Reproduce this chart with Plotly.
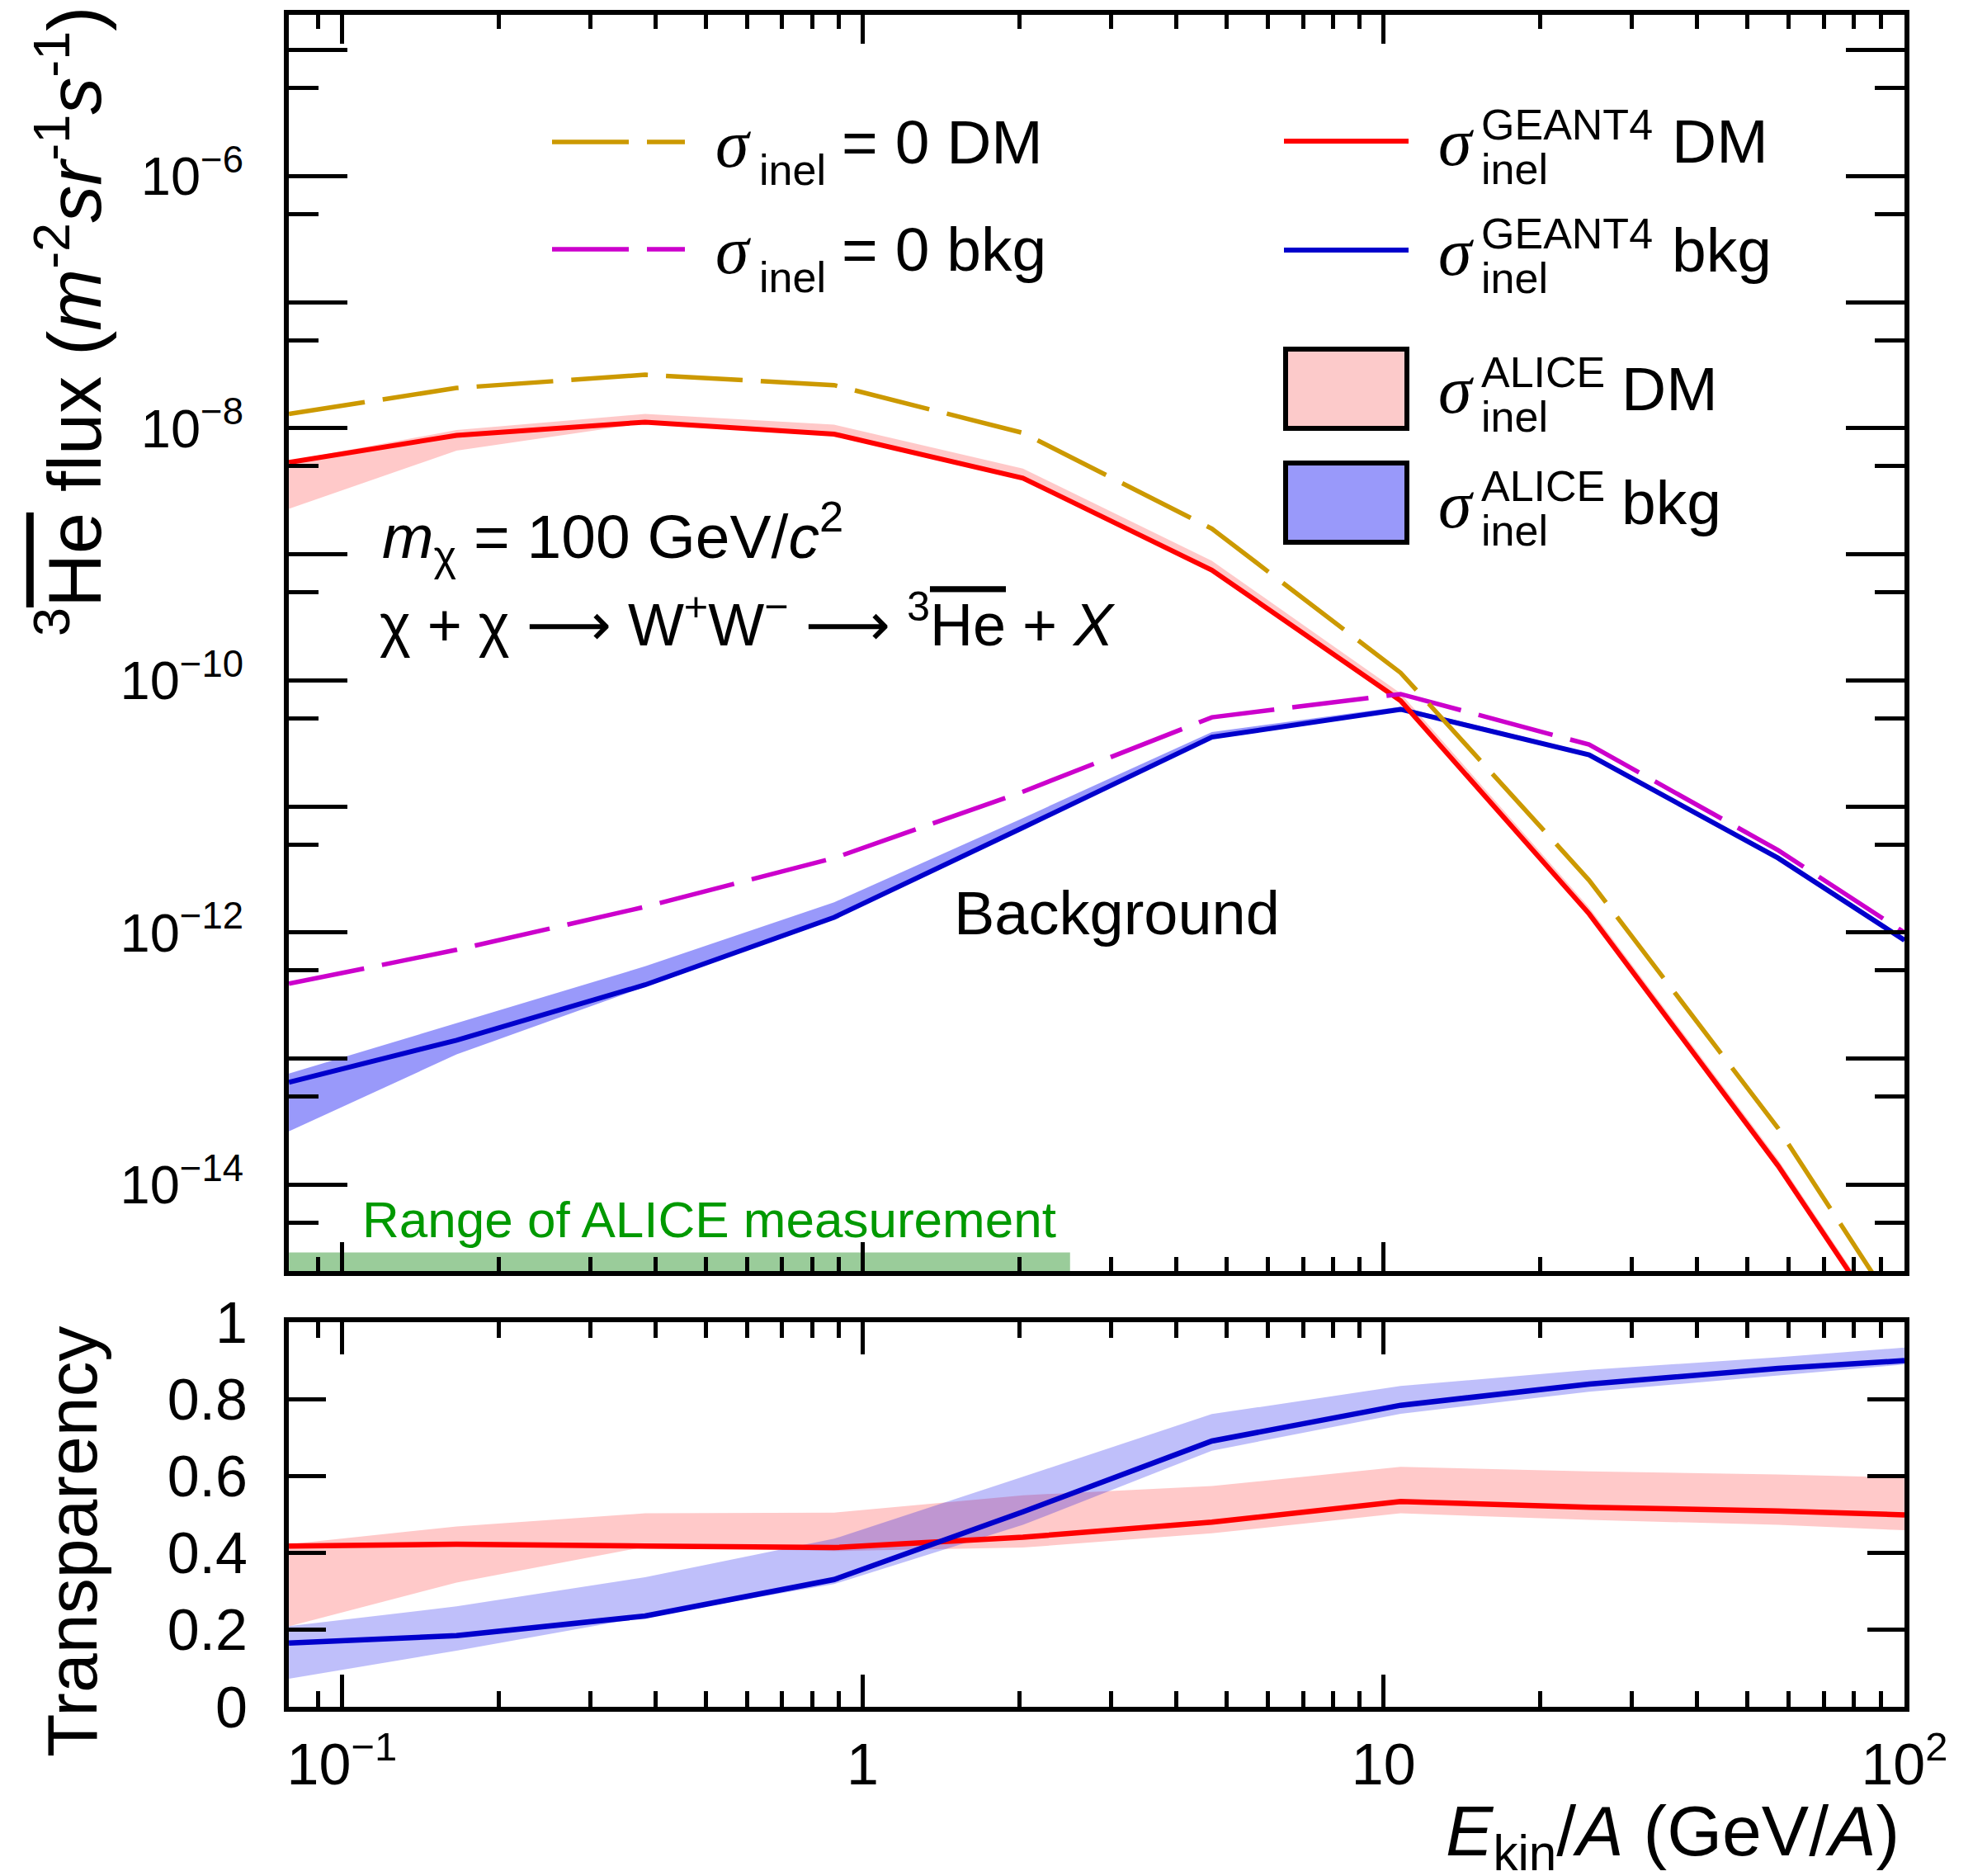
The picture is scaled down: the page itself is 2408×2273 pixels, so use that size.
import plotly.graph_objects as go

W, H = 2408, 2273
SANS = "Liberation Sans, Arial, Helvetica, sans-serif"
SERIF = "Liberation Serif, Times New Roman, serif"

# ---- data -------------------------------------------------------------
# kinetic energy per nucleon (GeV/A)
ekin = [0.0791, 0.166, 0.382, 0.881, 2.03, 4.68, 10.78, 24.8, 57.2, 100.0]

# antihelium-3 flux (m^-2 sr^-1 s^-1)
dm_sigma0 = [1.30e-8, 2.09e-8, 2.66e-8, 2.20e-8, 9.2e-9, 1.60e-9, 1.15e-10, 2.6e-12, 2.8e-14, 8.1e-16]
bkg_sigma0 = [3.93e-13, 7.3e-13, 1.60e-12, 3.9e-12, 1.31e-11, 5.1e-11, 7.8e-11, 3.1e-11, 4.5e-12, 1.0e-12]
dm_geant4 = [5.36e-9, 8.8e-9, 1.12e-8, 9.0e-9, 4.03e-9, 7.5e-10, 6.9e-11, 1.41e-12, 1.41e-14, 4.5e-16]
bkg_geant4 = [6.5e-14, 1.40e-13, 3.85e-13, 1.32e-12, 6.8e-12, 3.55e-11, 5.9e-11, 2.57e-11, 3.9e-12, 8.7e-13]
dm_alice_hi = [5.5e-9, 9.7e-9, 1.30e-8, 1.07e-8, 4.8e-9, 8.9e-10, 7.9e-11, 1.58e-12, 1.58e-14, 5.0e-16]
dm_alice_lo = [2.30e-9, 6.65e-9, 1.10e-8, 8.9e-9, 3.98e-9, 7.4e-10, 6.8e-11, 1.38e-12, 1.38e-14, 4.4e-16]
bkg_alice_hi = [7.6e-14, 1.92e-13, 5.4e-13, 1.74e-12, 8.1e-12, 3.9e-11, 6.2e-11, 2.66e-11, 4.07e-12, 9.1e-13]
bkg_alice_lo = [2.65e-14, 1.08e-13, 3.72e-13, 1.29e-12, 6.7e-12, 3.47e-11, 5.75e-11, 2.51e-11, 3.8e-12, 8.5e-13]

# transparency
tr_dm_geant4 = [0.418, 0.423, 0.418, 0.414, 0.441, 0.48, 0.534, 0.519, 0.509, 0.499]
tr_dm_alice_hi = [0.423, 0.469, 0.503, 0.505, 0.55, 0.574, 0.624, 0.612, 0.604, 0.596]
tr_dm_alice_lo = [0.209, 0.323, 0.416, 0.405, 0.414, 0.451, 0.503, 0.486, 0.473, 0.459]
tr_bkg_geant4 = [0.166, 0.185, 0.236, 0.331, 0.507, 0.691, 0.784, 0.839, 0.88, 0.90]
tr_bkg_alice_hi = [0.21, 0.261, 0.337, 0.437, 0.598, 0.761, 0.834, 0.876, 0.909, 0.934]
tr_bkg_alice_lo = [0.073, 0.146, 0.234, 0.319, 0.473, 0.666, 0.762, 0.819, 0.862, 0.89]

# ALICE measurement range (GeV/A)
alice_range = [0.0791, 2.5]
alice_band_top = 2.9e-15

flux_tick_vals = [10.0 ** k for k in range(-15, -4)]
flux_tick_text = ["" if k % 2 else "10<sup>\u2212%d</sup>" % (-k) for k in range(-15, -4)]
flux_minor_vals = [5 * 10.0 ** k for k in range(-16, -4)]
e_tick_vals = [0.1, 1, 10, 100]
e_tick_text = ["10<sup>\u22121</sup>", "1", "10", "10<sup>2</sup>"]
e_minor_vals = [0.09] + [m * d for d in (0.1, 1, 10) for m in range(2, 10)]
tr_tick_vals = [0, 0.2, 0.4, 0.6, 0.8, 1.0]
tr_tick_text = ["0", "0.2", "0.4", "0.6", "0.8", "1"]

RED = "#FF0000"
BLUE = "#0000CC"
GOLD = "#CC9900"
MAGENTA = "#CC00CC"
PINK_FILL = "rgba(255,0,0,0.21)"
BLUE_FILL_TOP = "rgba(0,0,242,0.40)"
BLUE_FILL_BOT = "rgba(0,0,235,0.25)"
DASH = "93px,22px"
SOLID_W = 6
DASH_W = 5.5


def px(x):
    return x / W


def py(y):
    return 1 - y / H


fig = go.Figure()


def band(x, hi, lo, color, xa, ya):
    fig.add_trace(go.Scatter(
        x=list(x) + list(x)[::-1], y=list(hi) + list(lo)[::-1],
        fill="toself", fillcolor=color, mode="lines", line=dict(width=0),
        xaxis=xa, yaxis=ya, hoverinfo="skip", showlegend=False))


def curve(x, y, color, width, xa, ya, dash=None):
    fig.add_trace(go.Scatter(
        x=x, y=y, mode="lines", line=dict(color=color, width=width, dash=dash),
        xaxis=xa, yaxis=ya, hoverinfo="skip", showlegend=False))


# upper panel: fluxes
fig.add_trace(go.Scatter(
    x=[alice_range[0], alice_range[1], alice_range[1], alice_range[0]],
    y=[1e-16, 1e-16, alice_band_top, alice_band_top],
    fill="toself", fillcolor="#9ACC9A", mode="lines", line=dict(width=0),
    xaxis="x", yaxis="y", hoverinfo="skip", showlegend=False))
band(ekin, dm_alice_hi, dm_alice_lo, PINK_FILL, "x", "y")
band(ekin, bkg_alice_hi, bkg_alice_lo, BLUE_FILL_TOP, "x", "y")
curve(ekin, bkg_geant4, BLUE, SOLID_W, "x", "y")
curve(ekin, dm_geant4, RED, SOLID_W, "x", "y")
curve(ekin, bkg_sigma0, MAGENTA, DASH_W, "x", "y", DASH)
curve(ekin, dm_sigma0, GOLD, DASH_W, "x", "y", DASH)

# lower panel: transparency
band(ekin, tr_dm_alice_hi, tr_dm_alice_lo, PINK_FILL, "x2", "y2")
band(ekin, tr_bkg_alice_hi, tr_bkg_alice_lo, BLUE_FILL_BOT, "x2", "y2")
curve(ekin, tr_dm_geant4, RED, 6.5, "x2", "y2")
curve(ekin, tr_bkg_geant4, BLUE, 6.5, "x2", "y2")

X_DOM = [350 / W, 2308 / W]
TOP_DOM = [py(1540), py(18)]
BOT_DOM = [py(2068), py(1602)]

common = dict(showline=True, linewidth=6, linecolor="black", mirror="ticks",
              ticks="inside", tickcolor="black", tickwidth=5,
              showgrid=False, zeroline=False, automargin=False)

fig.update_layout(
    template="none",
    width=W, height=H, margin=dict(l=0, r=0, t=0, b=0, pad=0),
    paper_bgcolor="white", plot_bgcolor="white",
    font=dict(family=SANS, color="black"),
    xaxis=dict(type="log", range=[-1.102, 2.0], domain=X_DOM, anchor="y",
               tickmode="array", tickvals=e_tick_vals, ticklen=35,
               showticklabels=False,
               minor=dict(tickmode="array", tickvals=e_minor_vals, ticklen=17,
                          tickwidth=5, ticks="inside", tickcolor="black"),
               **common),
    yaxis=dict(type="log", range=[-14.685, -4.72], domain=TOP_DOM, anchor="x",
               tickmode="array", tickvals=flux_tick_vals, ticktext=flux_tick_text,
               ticklen=71, tickfont=dict(size=65, family=SANS),
               ticklabelstandoff=36,
               minor=dict(tickmode="array", tickvals=flux_minor_vals, ticklen=36,
                          tickwidth=5, ticks="inside", tickcolor="black"),
               **common),
    xaxis2=dict(type="log", range=[-1.102, 2.0], domain=X_DOM, anchor="y2",
                tickmode="array", tickvals=e_tick_vals, ticktext=e_tick_text,
                ticklen=39, tickfont=dict(size=70, family=SANS),
                ticklabelstandoff=4,
                minor=dict(tickmode="array", tickvals=e_minor_vals, ticklen=19,
                           tickwidth=5, ticks="inside", tickcolor="black"),
                **common),
    yaxis2=dict(range=[0, 1], domain=BOT_DOM, anchor="x2",
                tickmode="array", tickvals=tr_tick_vals, ticktext=tr_tick_text,
                ticklen=45, tickfont=dict(size=70, family=SANS),
                ticklabelstandoff=30,
                **common),
)

annotations = []
shapes = []


def text(s, x, y, size, xanchor="left", yanchor="middle", color="black",
         family=SANS, angle=0):
    annotations.append(dict(
        text=s, x=px(x), y=py(y), xref="paper", yref="paper",
        xanchor=xanchor, yanchor=yanchor, showarrow=False, textangle=angle,
        font=dict(size=size, color=color, family=family), borderpad=0))


OVER_HE = '<span style="text-decoration:overline">He</span>'
ARROW = '<span style="font-family:DejaVu Sans">\u27f6</span>'

# axis titles
text('<sup>3</sup>' + OVER_HE + ' flux (<i>m</i><sup>-2</sup><i>sr</i><sup>-1</sup><i>s</i><sup>-1</sup>)',
     84, 390, 90, xanchor="center", angle=-90)
text("Transparency", 87, 1868, 86, xanchor="center", angle=-90)
text("<i>E</i><sub>kin</sub>/<i>A</i> (GeV/<i>A</i>)", 2303, 2224, 86, xanchor="right")

# in-plot labels
text("<i>m</i><sub>\u03c7</sub> = 100 GeV/<i>c</i><sup>2</sup>", 462, 649, 75)
text("\u03c7 + \u03c7 " + ARROW + " W<sup>+</sup>W<sup>\u2212</sup> " + ARROW + " <sup>3</sup>" + OVER_HE + " + <i>X</i>",
     459, 752, 72)
text("Background", 1155, 1106, 74)
text("Range of ALICE measurement", 438, 1477, 62, color="#009900")

# legend: dashed entries
for color, y0, label in [(GOLD, 172, "= 0 DM"), (MAGENTA, 302, "= 0 bkg")]:
    shapes.append(dict(type="line", xref="paper", yref="paper",
                       x0=px(669), x1=px(830), y0=py(y0), y1=py(y0),
                       line=dict(color=color, width=DASH_W, dash=DASH)))
    text("<i>\u03c3</i>", 866, y0 + 2, 82, family=SERIF)
    text("inel", 919, y0 + 34, 52)
    text(label, 1019, y0, 75)

# legend: solid lines and ALICE bands
rows = [
    dict(kind="line", color=RED, y=171, sup="GEANT4", lab="DM", labx=2025),
    dict(kind="line", color=BLUE, y=303, sup="GEANT4", lab="bkg", labx=2025),
    dict(kind="box", color="#FCCACA", y=471, sup="ALICE", lab="DM", labx=1964),
    dict(kind="box", color="#9999FA", y=609, sup="ALICE", lab="bkg", labx=1964),
]
for r in rows:
    y0 = r["y"]
    if r["kind"] == "line":
        shapes.append(dict(type="line", xref="paper", yref="paper",
                           x0=px(1556), x1=px(1707), y0=py(y0), y1=py(y0),
                           line=dict(color=r["color"], width=SOLID_W)))
    else:
        shapes.append(dict(type="rect", xref="paper", yref="paper",
                           x0=px(1558), x1=px(1705), y0=py(y0 - 48), y1=py(y0 + 48),
                           fillcolor=r["color"], line=dict(color="black", width=6)))
    text("<i>\u03c3</i>", 1742, y0 + 2, 82, family=SERIF)
    text(r["sup"], 1794, y0 - 20, 52)
    text("inel", 1794, y0 + 34, 52)
    text(r["lab"], r["labx"], y0, 75)

fig.update_layout(annotations=annotations, shapes=shapes)

fig.write_html("out.html")
